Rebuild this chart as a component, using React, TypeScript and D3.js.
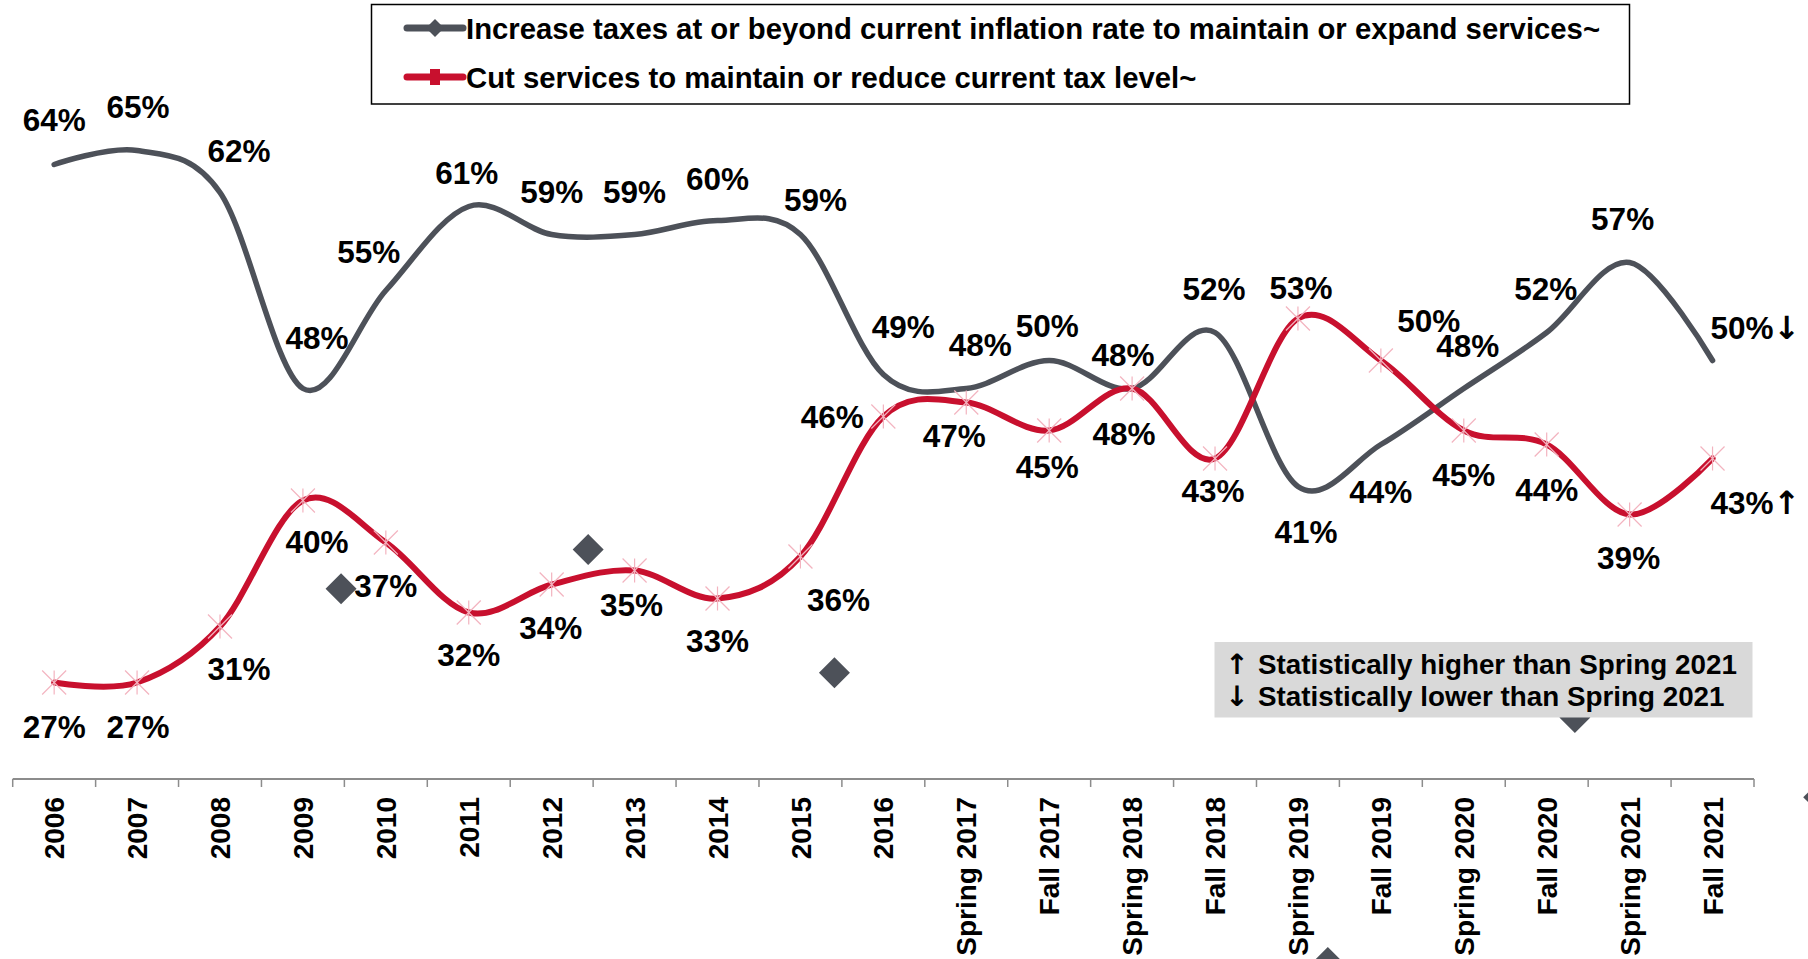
import React from 'react';
import * as d3 from 'd3';

const categories = ['2006','2007','2008','2009','2010','2011','2012','2013','2014','2015','2016','Spring 2017','Fall 2017','Spring 2018','Fall 2018','Spring 2019','Fall 2019','Spring 2020','Fall 2020','Spring 2021','Fall 2021'];
const increaseTaxes = [64,65,62,48,55,61,59,59,60,59,49,48,50,48,52,41,44,48,52,57,50];
const cutServices = [27,27,31,40,37,32,34,35,33,36,46,47,45,48,43,53,50,45,44,39,43];
const increaseSuffix = ['','','','','','','','','','','','','','','','','','','','','↓'];
const cutSuffix = ['','','','','','','','','','','','','','','','','','','','','↑'];
const seriesNames = [
  'Increase taxes at or beyond current inflation rate to maintain or expand services~',
  'Cut services to maintain or reduce current tax level~',
];
const noteLines = ['Statistically higher than Spring 2021', 'Statistically lower than Spring 2021'];
const noteArrows = ['↑', '↓'];
// stray diamond markers visible in the source picture (category position, value)
const strayPos = [3.46, 6.44, 9.41, 15.36, 18.34, 21.28];
const strayVal = [33.7, 36.5, 27.7, 7.0, 24.5, 18.8];

// label placement relative to each point (dx, dy) in px
const grayDx = [0,1,19,14,-17,-2,0,0,0,15,20,14,-2,-9,-1,8,0,4,-1,-7,-2];
const grayDy = [-45,-44,-42,-51,-39,-33.5,-43,-43,-42,-35,-48,-44,-35,-34,-43.5,45,47,-43,-43.5,-43.4,-33];
const redDx = [0,1,19,14,0,0,-1,-3,0,38,-51,-12,-2,-8,-2,3,48,0,0,-1,-2];
const redDy = [44,44,42,41,43,42,43.5,34,42,43,0,33,36,45.6,32.5,-31,-40,44,44.7,43.6,44.5];

const W = 1808, H = 959;
const GRAY = '#4d5159';
const RED = '#c8102e';
const PINK = '#f3b3bf';
const FONT = '"Liberation Sans", Arial, sans-serif';
const ARROW_FONT = '"DejaVu Sans", sans-serif';

export default function App() {
  const x = d3.scaleBand<string>().domain(categories).range([12.7, 1754]);
  const bw = x.bandwidth();
  const cx = (c: string) => (x(c) as number) + bw / 2;
  const y = d3.scaleLinear().domain([20, 70]).range([780.5, 80.5]);
  const xPos = d3.scaleLinear().domain([0, categories.length - 1]).range([cx(categories[0]), cx(categories[categories.length - 1])]);

  const line = d3.line<number>()
    .x((_, i) => cx(categories[i]))
    .y((d) => y(d))
    .curve(d3.curveCardinal.tension(0));

  const ticks = d3.range(categories.length + 1).map((i) => 12.7 + i * bw);

  const star = (px: number, py: number, key: string) => {
    const s = 12;
    return (
      <g key={key} stroke={PINK} strokeWidth={1.2}>
        <line x1={px - s} y1={py - s} x2={px + s} y2={py + s} />
        <line x1={px - s} y1={py + s} x2={px + s} y2={py - s} />
        <line x1={px} y1={py - s} x2={px} y2={py + s} />
      </g>
    );
  };

  const diamond = (px: number, py: number, r: number) =>
    `M${px},${py - r}L${px + r},${py}L${px},${py + r}L${px - r},${py}Z`;

  const label = (v: number, suffix: string, px: number, py: number, last: boolean, key: string) => (
    <text key={key} x={px} y={py} dy="0.36em" textAnchor={last ? 'start' : 'middle'}
      fontSize={31.5} fontWeight="bold" fill="#000">
      {v + '%'}
      {suffix ? <tspan fontFamily={ARROW_FONT} fontSize={32}>{suffix}</tspan> : null}
    </text>
  );

  return (
    <svg width={W} height={H} style={{ position: 'absolute', left: 0, top: 0, background: '#fff' }} fontFamily={FONT}>
      <rect x={0} y={0} width={W} height={H} fill="#fff" />

      {/* x axis */}
      <line x1={12.7} x2={1754} y1={779} y2={779} stroke="#8c8c8c" strokeWidth={2} />
      {ticks.map((t, i) => (
        <line key={'t' + i} x1={t} x2={t} y1={779} y2={787} stroke="#8c8c8c" strokeWidth={1.5} />
      ))}
      {categories.map((c) => (
        <text key={'xl' + c} transform={`translate(${cx(c)},797) rotate(-90)`} textAnchor="end" dy="0.36em"
          fontSize={28} fontWeight="bold" fill="#000">{c}</text>
      ))}

      {/* lines */}
      <path d={line(increaseTaxes) || ''} fill="none" stroke={GRAY} strokeWidth={5.5} strokeLinecap="round" />
      <path d={line(cutServices) || ''} fill="none" stroke={RED} strokeWidth={6} strokeLinecap="round" />
      {cutServices.map((v, i) => star(cx(categories[i]), y(v), 's' + i))}

      {/* stray diamonds */}
      {strayPos.map((p, i) => (
        <path key={'d' + i} d={diamond(xPos(p), y(strayVal[i]), 15.5)} fill={GRAY} />
      ))}

      {/* note box */}
      <rect x={1214.5} y={642} width={538} height={75.5} fill="#d9d9d9" />
      {noteLines.map((t, i) => (
        <g key={'n' + i}>
          <text x={1237} y={673.5 + i * 32.5} textAnchor="middle" fontSize={28} fontWeight="bold" fill="#000"
            fontFamily={ARROW_FONT}>{noteArrows[i]}</text>
          <text x={1258} y={673.5 + i * 32.5} fontSize={27.8} fontWeight="bold" fill="#000">{t}</text>
        </g>
      ))}

      {/* data labels */}
      {increaseTaxes.map((v, i) =>
        label(v, increaseSuffix[i], cx(categories[i]) + grayDx[i], y(v) + grayDy[i], i === categories.length - 1, 'gl' + i))}
      {cutServices.map((v, i) =>
        label(v, cutSuffix[i], cx(categories[i]) + redDx[i], y(v) + redDy[i], i === categories.length - 1, 'rl' + i))}

      {/* legend */}
      <rect x={371.5} y={4.5} width={1258} height={99.5} fill="#fff" stroke="#000" strokeWidth={1.5} />
      <line x1={407} x2={463} y1={28} y2={28} stroke={GRAY} strokeWidth={7} strokeLinecap="round" />
      <path d={diamond(435, 28, 9)} fill={GRAY} />
      <text x={466} y={38.5} fontSize={29.3} fontWeight="bold" fill="#000">{seriesNames[0]}</text>
      <line x1={407} x2={463} y1={77} y2={77} stroke={RED} strokeWidth={7} strokeLinecap="round" />
      <rect x={430} y={69} width={10} height={16} fill={RED} />
      <text x={466} y={88} fontSize={29.3} fontWeight="bold" fill="#000">{seriesNames[1]}</text>
    </svg>
  );
}
